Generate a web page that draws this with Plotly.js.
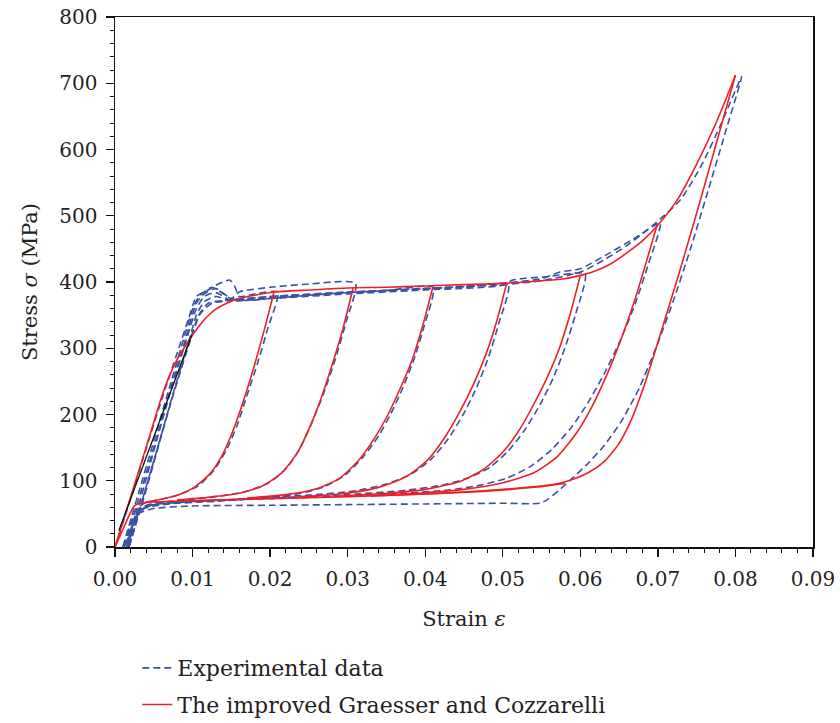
<!DOCTYPE html>
<html>
<head>
<meta charset="utf-8">
<script src="https://cdn.plot.ly/plotly-3.0.1.min.js"></script>
<style>html,body{margin:0;padding:0;background:#fff;}#chart{width:840px;height:723px;}</style>
</head>
<body>
<div id="chart"></div>
<script>
// ---------- Model (red) ----------
var envStrain = [0,0.002,0.004,0.006,0.007,0.008,0.009,0.010,0.011,0.012,0.013,0.0144,0.016,0.018,0.0205,0.025,0.03,0.035,0.04,0.045,0.05,0.055,0.058,0.06,0.062,0.064,0.066,0.068,0.07,0.0725,0.075,0.0775,0.08];
var envStress = [0,75,150,226,258,283,302,320,336,349,359,368,375,380,385,388,391,392,394,396,398,402,405,410,417,428,444,462,486,524,578,640,712];

var lowStrain = [0.058,0.055,0.05,0.045,0.04,0.03,0.02,0.01,0.005,0.0032,0.0025,0.002,0];
var lowStress = [96,92,87,83,80,76,73,70,68,66,62,52,0];

var u02Strain = [0.0205,0.0193,0.018,0.0166,0.0152,0.0138,0.0122,0.0102,0.008,0.0055,0.004];
var u02Stress = [385,330,275,222,175,138,110,90,78,71,68];
var u03Strain = [0.0307,0.0294,0.028,0.0265,0.025,0.0235,0.0215,0.019,0.016,0.012,0.008];
var u03Stress = [391,330,275,222,178,142,112,92,81,75,71];
var u04Strain = [0.041,0.0397,0.0383,0.0368,0.0352,0.0335,0.0315,0.029,0.026,0.022,0.017];
var u04Stress = [393,335,282,240,200,165,132,104,88,79,74];
var u05Strain = [0.0505,0.0492,0.0478,0.0462,0.0445,0.0425,0.0402,0.0375,0.034,0.029,0.023];
var u05Stress = [398,340,290,245,205,165,130,106,90,80,75];
var u06Strain = [0.06,0.0587,0.0573,0.0558,0.0542,0.0522,0.05,0.0475,0.0445,0.04,0.035,0.029];
var u06Stress = [410,352,300,258,220,178,143,117,99,87,81,77];
var u07Strain = [0.0699,0.0685,0.067,0.0653,0.0635,0.0615,0.0595,0.057,0.054,0.05,0.045,0.04,0.035];
var u07Stress = [486,430,372,315,262,212,172,136,112,97,87,82,79];
var u08Strain = [0.08,0.0776,0.0752,0.0728,0.0705,0.0683,0.0665,0.0648,0.063,0.061,0.0585,0.056,0.053,0.0475,0.04,0.033];
var u08Stress = [712,612,512,416,328,246,190,153,128,112,100,93,89,84,80,77];

var blackStrain = [0.0005,0.0099];
var blackStress = [25,320];

// ---------- Experimental (blue dashed), one array pair per cycle ----------
var c1Strain = [0,0.002,0.004,0.006,0.008,0.0095,0.0105,0.012,0.0135,0.0148,0.0155,0.016,0.018,0.021,0.0197,0.0184,0.017,0.0157,0.0143,0.0127,0.0107,0.0085,0.006,0.004,0.0028,0.002,0.0012];
var c1Stress = [0,72,148,222,292,345,378,388,398,403,392,378,382,385,330,278,228,182,145,115,92,80,72,67,58,35,0];
var c2Strain = [0.001,0.003,0.005,0.007,0.009,0.0102,0.011,0.0125,0.0135,0.015,0.016,0.02,0.025,0.031,0.0298,0.0284,0.0269,0.0254,0.0239,0.0222,0.02,0.017,0.013,0.009,0.005,0.003,0.002,0.0013];
var c2Stress = [0,80,160,240,320,365,380,392,386,375,385,392,397,398,340,283,232,188,150,120,98,84,76,71,66,57,25,0];
var c3Strain = [0.0012,0.003,0.005,0.007,0.009,0.0105,0.0115,0.013,0.015,0.017,0.02,0.025,0.03,0.035,0.041,0.0399,0.0386,0.0371,0.0356,0.034,0.032,0.0296,0.027,0.0235,0.019,0.013,0.007,0.0035,0.0022,0.0015];
var c3Stress = [0,70,150,232,310,368,382,390,375,372,375,380,384,387,392,335,285,240,202,168,136,108,91,80,74,69,65,57,30,0];
var c4Strain = [0.0015,0.003,0.005,0.007,0.009,0.0105,0.0115,0.013,0.015,0.02,0.03,0.04,0.045,0.0507,0.0495,0.0482,0.0466,0.0449,0.043,0.0408,0.0382,0.035,0.031,0.026,0.02,0.014,0.008,0.004,0.0025,0.0018];
var c4Stress = [0,60,145,228,305,360,378,384,372,376,384,390,392,396,338,288,240,200,164,133,110,95,85,79,75,71,67,61,42,0];
var c5Strain = [0.0018,0.0035,0.0055,0.0075,0.0095,0.0105,0.0115,0.013,0.015,0.02,0.03,0.04,0.05,0.0513,0.0557,0.0606,0.0594,0.058,0.0565,0.0548,0.0528,0.0507,0.0483,0.0455,0.042,0.037,0.031,0.024,0.016,0.009,0.005,0.003,0.002,0.0018];
var c5Stress = [0,70,150,232,310,350,370,378,372,375,382,388,395,403,408,412,352,300,255,215,176,145,120,104,93,85,80,76,72,68,64,54,20,0];
var c6Strain = [0.0018,0.0035,0.0055,0.0075,0.0095,0.0108,0.012,0.014,0.02,0.03,0.04,0.05,0.055,0.0574,0.06,0.0638,0.067,0.0703,0.0688,0.0671,0.0652,0.0631,0.061,0.0588,0.0563,0.0535,0.0505,0.047,0.043,0.037,0.03,0.02,0.01,0.005,0.003,0.002,0.0017];
var c6Stress = [0,65,148,230,305,350,368,372,378,384,390,398,405,415,420,444,466,489,428,368,313,262,218,180,147,121,104,93,86,81,77,73,69,64,52,20,0];
var c7Strain = [0.0017,0.0035,0.0055,0.0075,0.0095,0.011,0.0125,0.015,0.02,0.03,0.04,0.05,0.055,0.06,0.063,0.066,0.0694,0.0729,0.0757,0.0782,0.0808,0.0786,0.0764,0.0742,0.072,0.0698,0.0676,0.0653,0.063,0.0608,0.0588,0.0572,0.0558,0.0548,0.05,0.04,0.03,0.02,0.01,0.005,0.003,0.002,0.0015];
var c7Stress = [0,70,150,230,305,352,368,372,378,385,390,396,402,415,433,455,486,524,578,640,710,622,535,450,372,302,240,190,152,124,102,85,72,66,66,65,64,63,62,58,50,20,0];

var legendNames = ['Experimental data', 'The improved Graesser and Cozzarelli'];

var BLUE = '#3a52a4', RED = '#ee1f26';
var FONT = 'DejaVu Serif, Liberation Serif, serif';

var traces = [];
var expCycles = [[c1Strain,c1Stress],[c2Strain,c2Stress],[c3Strain,c3Stress],[c4Strain,c4Stress],[c5Strain,c5Stress],[c6Strain,c6Stress],[c7Strain,c7Stress]];
expCycles.forEach(function(c, i){
  traces.push({x:c[0], y:c[1], type:'scatter', mode:'lines', name:legendNames[0],
    legendgroup:'exp', showlegend:i===0,
    line:{color:BLUE, width:1.6, dash:'7px,4px', shape:'spline', smoothing:0.6}});
});
var modelCurves = [[envStrain,envStress],[lowStrain,lowStress],[u02Strain,u02Stress],[u03Strain,u03Stress],[u04Strain,u04Stress],[u05Strain,u05Stress],[u06Strain,u06Stress],[u07Strain,u07Stress],[u08Strain,u08Stress]];
modelCurves.forEach(function(c, i){
  traces.push({x:c[0], y:c[1], type:'scatter', mode:'lines', name:legendNames[1],
    legendgroup:'model', showlegend:i===0,
    line:{color:RED, width:1.6, shape:'spline', smoothing:0.6}});
});
traces.push({x:blackStrain, y:blackStress, type:'scatter', mode:'lines', showlegend:false,
  line:{color:'#111', width:1.3}});

var layout = {
  width:840, height:723,
  margin:{l:115, r:27, t:17, b:176},
  paper_bgcolor:'#fff', plot_bgcolor:'#fff',
  font:{family:FONT, color:'#222', size:20},
  showlegend:true,
  legend:{x:0.032, xanchor:'left', xref:'paper', y:0.105, yref:'container', yanchor:'top', orientation:'v',
    traceorder:'grouped', tracegroupgap:5, font:{family:FONT, size:22, color:'#222'},
    bgcolor:'rgba(0,0,0,0)'},
  xaxis:{range:[0,0.09], dtick:0.01, tick0:0, tickformat:'.2f',
    ticks:'outside', ticklen:8, tickwidth:1.4, tickcolor:'#111',
    showline:true, linewidth:1.5, linecolor:'#111', mirror:true,
    showgrid:false, zeroline:false, ticklabelstandoff:5,
    minor:{dtick:0.002, ticks:'outside', ticklen:4, tickwidth:1, tickcolor:'#111', showgrid:false},
    tickfont:{family:FONT, size:20, color:'#222'},
    title:{text:'Strain <i>ε</i>', font:{family:FONT, size:21, color:'#222'}, standoff:22}},
  yaxis:{range:[0,800], dtick:100, tick0:0,
    ticks:'outside', ticklen:8, tickwidth:1.4, tickcolor:'#111',
    showline:true, linewidth:1.5, linecolor:'#111', mirror:true,
    showgrid:false, zeroline:false,
    minor:{dtick:20, ticks:'outside', ticklen:4, tickwidth:1, tickcolor:'#111', showgrid:false},
    tickfont:{family:FONT, size:20, color:'#222'}, ticklabelstandoff:4,
    title:{text:'Stress <i>σ</i> (MPa)', font:{family:FONT, size:21, color:'#222'}, standoff:16}}
};

Plotly.newPlot('chart', traces, layout, {staticPlot:true, displayModeBar:false});
</script>
</body>
</html>
